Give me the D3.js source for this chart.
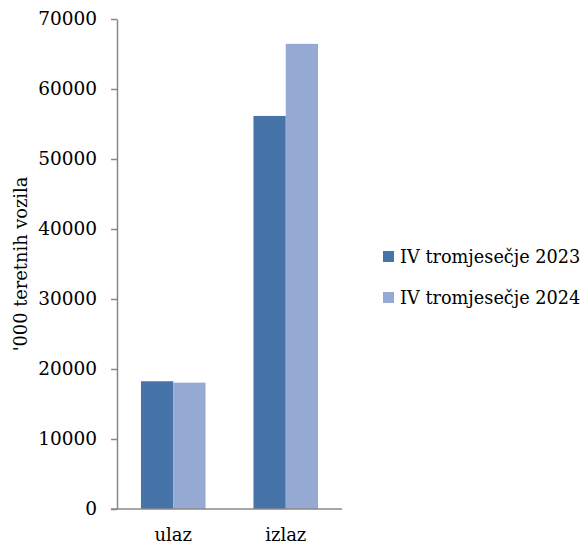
<!DOCTYPE html>
<html>
<head>
<meta charset="utf-8">
<script src="https://cdn.jsdelivr.net/npm/d3@7"></script>
<style>
  body { margin: 0; background: #fff; }
  text { font-family: "DejaVu Serif", serif; fill: #000; }
</style>
</head>
<body>
<script>
var categories = ["ulaz", "izlaz"];
var seriesNames = ["IV tromjesečje 2023", "IV tromjesečje 2024"];
var values2023 = [18250, 56150];
var values2024 = [18050, 66450];
var yTicks = [0, 10000, 20000, 30000, 40000, 50000, 60000, 70000];
var colors = ["#4674A9", "#94AAD2"];

var width = 585, height = 546;
var plotLeft = 117, plotRight = 342, plotTop = 19, plotBottom = 509;

var svg = d3.select("body").append("svg")
    .attr("width", width)
    .attr("height", height);

var x = d3.scaleBand()
    .domain(categories)
    .range([plotLeft, plotRight])
    .paddingInner(0.426)
    .paddingOuter(0.213);

var xs = d3.scaleBand()
    .domain(seriesNames)
    .range([0, x.bandwidth()]);

var y = d3.scaleLinear()
    .domain([0, 70000])
    .range([plotBottom, plotTop]);

var rows = categories.map(function(c, i) {
  return { cat: c, vals: [values2023[i], values2024[i]] };
});

svg.append("g")
  .selectAll("g")
    .data(rows)
  .enter().append("g")
    .attr("transform", function(d) { return "translate(" + x(d.cat) + ",0)"; })
  .selectAll("rect")
    .data(function(d) { return d.vals; })
  .enter().append("rect")
    .attr("x", function(d, i) { return xs(seriesNames[i]); })
    .attr("width", xs.bandwidth())
    .attr("y", function(d) { return y(d); })
    .attr("height", function(d) { return plotBottom - y(d); })
    .attr("fill", function(d, i) { return colors[i]; });

// y axis
var yAxis = svg.append("g")
    .attr("transform", "translate(" + plotLeft + ",0)")
    .call(d3.axisLeft(y).tickValues(yTicks).tickFormat(d3.format("d"))
      .tickSize(6).tickPadding(14).tickSizeOuter(0));
yAxis.select(".domain").attr("stroke", "#888").attr("stroke-width", 1.5);
yAxis.selectAll(".tick line").attr("stroke", "#888").attr("stroke-width", 1.5);
yAxis.selectAll(".tick text").style("font-size", "18.5px").style("font-family", "DejaVu Serif");

// x axis
var xAxis = svg.append("g")
    .attr("transform", "translate(0," + plotBottom + ")")
    .call(d3.axisBottom(x).tickSize(0).tickPadding(19).tickSizeOuter(0));
xAxis.select(".domain").attr("d", "M" + (plotLeft - 6) + ",0H" + plotRight)
    .attr("stroke", "#888").attr("stroke-width", 1.5);
xAxis.selectAll(".tick text").style("font-size", "18px").style("font-family", "DejaVu Serif");

// y label
svg.append("text")
    .attr("transform", "translate(27," + (plotTop + plotBottom) / 2 + ")rotate(-90)")
    .attr("text-anchor", "middle")
    .style("font-size", "17.8px")
    .text("'000 teretnih vozila");

// legend
var legend = svg.append("g")
  .selectAll("g")
    .data(seriesNames)
  .enter().append("g")
    .attr("transform", function(d, i) { return "translate(383," + (251 + i * 41) + ")"; });
legend.append("rect")
    .attr("width", 11).attr("height", 11)
    .attr("fill", function(d, i) { return colors[i]; });
legend.append("text")
    .attr("x", 17).attr("y", 12)
    .style("font-size", "17.7px")
    .text(function(d) { return d; });
</script>
</body>
</html>
